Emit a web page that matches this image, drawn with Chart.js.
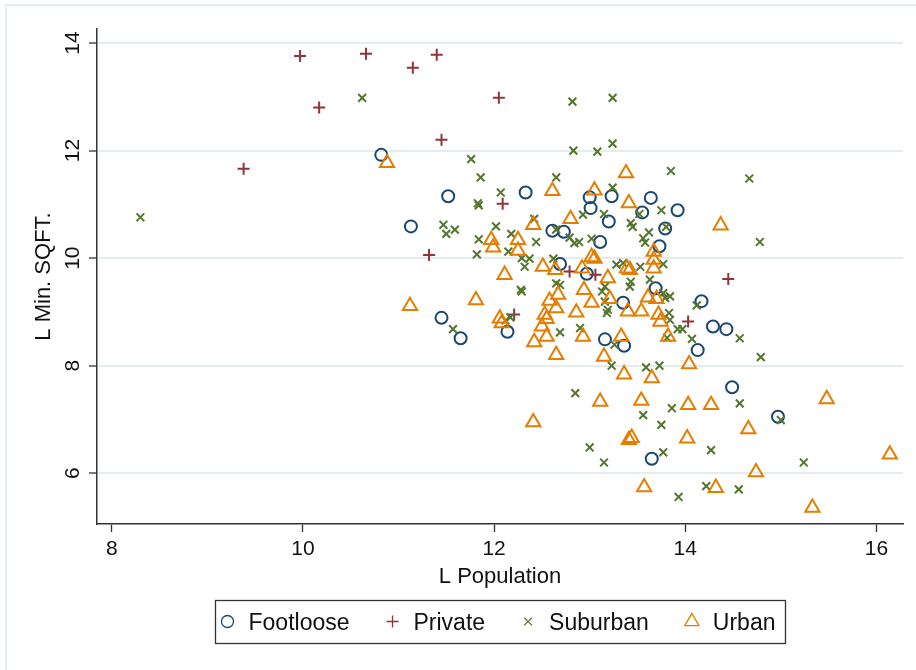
<!DOCTYPE html>
<html lang="en">
<head>
  <meta charset="utf-8">
  <title>L Min. SQFT. vs L Population</title>
  <script src="https://cdn.jsdelivr.net/npm/chart.js@4.4.3/dist/chart.umd.min.js"></script>
  <style>
    html, body { margin: 0; padding: 0; background: #fff; }
    #scatterChart { display: block; }
  </style>
</head>
<body>
  <canvas id="scatterChart" width="916" height="670"></canvas>

  <script>
    // axis ticks
    const xTicks = [8, 10, 12, 14, 16];
    const yTicks = [6, 8, 10, 12, 14];

    // Footloose
    const footlooseX = [10.82, 11.13, 11.52, 12.33, 13.00, 13.01, 12.61, 12.73, 12.69, 13.11, 13.23, 13.64, 13.92, 13.55, 13.20, 13.79,
      13.73, 11.45, 11.65, 12.14, 12.97, 13.69, 13.35, 14.17, 13.16, 13.36, 14.29, 14.43, 14.13, 14.49, 14.97, 13.65];
    const footlooseY = [11.92, 10.59, 11.15, 11.22, 11.13, 10.93, 10.51, 10.49, 9.89, 10.30, 11.15, 11.12, 10.89, 10.85, 10.68, 10.55,
      10.22, 8.89, 8.51, 8.63, 9.71, 9.44, 9.17, 9.20, 8.49, 8.37, 8.73, 8.68, 8.29, 7.60, 7.05, 6.27];

    // Private
    const privateX = [9.97, 10.66, 11.15, 11.40, 10.17, 9.38, 11.45, 11.32, 12.05, 12.09, 12.79, 13.06, 12.21, 14.45, 14.03];
    const privateY = [13.76, 13.80, 13.54, 13.78, 12.80, 11.66, 12.20, 10.06, 12.98, 11.01, 9.75, 9.69, 8.95, 9.61, 8.82];

    // Suburban
    const suburbanX = [10.62, 8.30, 11.47, 11.50, 11.59, 12.82, 13.24, 12.83, 11.76, 11.86, 12.65, 12.07, 11.83, 11.84, 12.02, 11.84,
      12.18, 12.44, 12.42, 12.93, 12.79, 12.84, 12.89, 13.02, 11.82, 12.15, 12.29, 12.37, 12.32, 12.62, 12.65, 13.08,
      13.24, 13.85, 14.67, 13.24, 13.15, 13.52, 13.75, 13.43, 13.45, 13.62, 13.56, 13.58, 13.80, 14.78, 13.28, 13.35,
      13.53, 13.77, 12.28, 12.29, 12.65, 12.69, 12.12, 12.17, 11.57, 12.69, 12.90, 13.43, 13.42, 13.16, 13.13, 13.63,
      13.77, 13.79, 13.84, 13.16, 13.19, 13.18, 13.83, 13.84, 13.92, 13.97, 14.12, 14.07, 14.57, 13.81, 13.23, 13.59,
      13.73, 14.79, 13.26, 12.85, 13.86, 13.56, 13.75, 14.57, 15.00, 13.00, 13.15, 13.77, 14.27, 15.24, 14.22, 14.56, 13.93];
    const suburbanY = [12.98, 10.76, 10.62, 10.45, 10.53, 12.91, 12.98, 12.00, 11.84, 11.50, 11.50, 11.22, 11.02, 10.98, 10.59, 10.35,
      10.45, 10.30, 10.73, 10.81, 10.38, 10.28, 10.30, 10.36, 10.07, 10.12, 10.00, 9.99, 9.84, 9.99, 10.53, 11.98,
      12.13, 11.62, 11.48, 11.31, 10.82, 10.82, 10.89, 10.65, 10.58, 10.48, 10.37, 10.29, 10.58, 10.30, 9.88, 9.91,
      9.84, 9.89, 9.41, 9.38, 9.53, 9.50, 8.84, 8.90, 8.68, 8.62, 8.70, 9.56, 9.47, 9.47, 9.38, 9.60,
      9.35, 9.26, 9.29, 9.19, 9.04, 8.98, 8.98, 8.85, 8.68, 8.68, 9.12, 8.50, 8.51, 8.52, 8.00, 7.97,
      8.00, 8.16, 8.39, 7.49, 7.21, 7.08, 6.90, 7.30, 6.99, 6.48, 6.20, 6.39, 6.43, 6.20, 5.76, 5.70, 5.56];

    // Urban
    const urbanX = [10.88, 11.12, 12.61, 12.41, 12.80, 13.05, 11.97, 11.99, 12.25, 12.25, 13.02, 13.05, 13.38, 13.41, 14.37, 13.67,
      13.67, 12.11, 11.81, 12.06, 12.08, 12.51, 12.64, 12.67, 12.58, 12.65, 12.53, 12.55, 12.50, 12.55, 12.42, 12.65,
      12.94, 13.02, 12.86, 12.93, 12.92, 13.19, 13.21, 13.40, 13.54, 13.61, 13.70, 13.72, 13.74, 13.82, 13.33, 13.15,
      13.36, 13.65, 14.04, 13.67, 13.39, 13.42, 13.11, 13.54, 14.03, 14.27, 12.41, 14.66, 13.44, 13.41, 14.02, 15.48,
      16.14, 14.74, 13.57, 14.32, 15.33];
    const urbanY = [11.77, 9.11, 11.25, 10.62, 10.73, 11.26, 10.34, 10.20, 10.34, 10.14, 10.02, 9.99, 11.58, 11.02, 10.61, 10.12,
      9.97, 9.69, 9.22, 8.88, 8.79, 9.84, 9.78, 9.32, 9.21, 9.07, 8.95, 8.87, 8.73, 8.54, 8.44, 8.20,
      9.41, 9.17, 8.99, 8.54, 9.81, 9.63, 9.24, 9.01, 9.01, 9.27, 9.24, 8.95, 8.82, 8.54, 8.54, 8.17,
      7.84, 7.77, 8.03, 9.81, 9.81, 9.78, 7.33, 7.35, 7.27, 7.27, 6.95, 6.82, 6.66, 6.62, 6.65, 7.38,
      6.35, 6.02, 5.74, 5.73, 5.36];

    const family = '"Liberation Sans", Arial, Helvetica, sans-serif';
    Chart.defaults.font.family = family;
    Chart.defaults.color = '#111';

    function toPoints(xs, ys) {
      return xs.map((x, i) => ({ x: x, y: ys[i] }));
    }

    // thin frame round the whole graph
    const outerFrame = {
      id: 'outerFrame',
      beforeDraw(chart) {
        const ctx = chart.ctx;
        ctx.save();
        ctx.strokeStyle = '#e6edf0';
        ctx.lineWidth = 2;
        ctx.beginPath();
        ctx.moveTo(6, chart.height);
        ctx.lineTo(6, 5);
        ctx.lineTo(chart.width, 5);
        ctx.stroke();
        ctx.restore();
      }
    };

    // boxed legend under the x title
    const boxedLegend = {
      id: 'boxedLegend',
      afterDraw(chart) {
        const ctx = chart.ctx;
        const area = chart.chartArea;
        const sets = chart.data.datasets;
        const markGap = 21, itemGap = 43, padL = 12, padR = 10;
        ctx.save();
        ctx.font = '23px ' + family;
        const widths = sets.map(ds => ctx.measureText(ds.label).width);
        let span = 0;
        widths.forEach((w, i) => { span += markGap + w + (i < widths.length - 1 ? itemGap : 0); });
        const boxW = padL + span + padR;
        const boxH = 43;
        const boxX = Math.round((area.left + area.right) / 2 - boxW / 2) + 0.5;
        const boxY = area.bottom + 76.5;
        ctx.fillStyle = '#fff';
        ctx.fillRect(boxX, boxY, boxW, boxH);
        ctx.strokeStyle = '#333';
        ctx.lineWidth = 1.3;
        ctx.strokeRect(boxX, boxY, boxW, boxH);

        const midY = boxY + boxH / 2 - 0.5;
        let cx = boxX + padL;
        sets.forEach((ds, i) => {
          ctx.strokeStyle = ds.borderColor;
          ctx.fillStyle = 'rgba(0,0,0,0)';
          Chart.helpers.drawPoint(ctx, {
            pointStyle: ds.pointStyle,
            radius: ds.pointRadius,
            borderWidth: ds.borderWidth,
            rotation: 0
          }, cx, midY);
          ctx.fillStyle = '#111';
          ctx.textAlign = 'left';
          ctx.textBaseline = 'alphabetic';
          ctx.fillText(ds.label, cx + markGap, midY + 8.5);
          cx += markGap + widths[i] + itemGap;
        });
        ctx.restore();
      }
    };

    new Chart(document.getElementById('scatterChart'), {
      type: 'scatter',
      data: {
        datasets: [
          {
            label: 'Footloose',
            data: toPoints(footlooseX, footlooseY),
            pointStyle: 'circle',
            pointRadius: 6,
            borderWidth: 2,
            borderColor: '#1a476f',
            backgroundColor: 'rgba(0,0,0,0)',
            order: 4
          },
          {
            label: 'Private',
            data: toPoints(privateX, privateY),
            pointStyle: 'cross',
            pointRadius: 6,
            borderWidth: 2,
            borderColor: '#90353b',
            backgroundColor: '#90353b',
            order: 3
          },
          {
            label: 'Suburban',
            data: toPoints(suburbanX, suburbanY),
            pointStyle: 'crossRot',
            pointRadius: 5.5,
            borderWidth: 2,
            borderColor: '#55752f',
            backgroundColor: '#55752f',
            order: 2
          },
          {
            label: 'Urban',
            data: toPoints(urbanX, urbanY),
            pointStyle: 'triangle',
            pointRadius: 8.2,
            borderWidth: 2,
            borderColor: '#e37e00',
            backgroundColor: 'rgba(0,0,0,0)',
            order: 1
          }
        ]
      },
      options: {
        responsive: false,
        animation: false,
        layout: { padding: { left: 0, right: 13, top: 29, bottom: 80 } },
        plugins: {
          legend: { display: false },
          tooltip: { enabled: false }
        },
        scales: {
          x: {
            type: 'linear',
            min: 7.846,
            max: 16.278,
            afterBuildTicks: scale => { scale.ticks = xTicks.map(v => ({ value: v })); },
            afterFit: scale => { scale.height = 66; },
            grid: { drawOnChartArea: false, drawTicks: true, tickLength: 8, tickColor: '#333', tickWidth: 1.3 },
            border: { display: true, color: '#333', width: 1.5 },
            ticks: { font: { size: 21 }, color: '#111', padding: 5, minRotation: 0, maxRotation: 0 },
            title: { display: true, text: 'L Population', font: { size: 22 }, color: '#111', padding: { top: 0, bottom: 0 } }
          },
          y: {
            type: 'linear',
            min: 5.057,
            max: 14.26,
            afterBuildTicks: scale => { scale.ticks = yTicks.map(v => ({ value: v })); },
            afterFit: scale => { scale.width = 97; },
            grid: { color: '#e4ecef', lineWidth: 2, drawTicks: true, tickLength: 8, tickColor: '#333', tickWidth: 1.3 },
            border: { display: true, color: '#333', width: 1.5 },
            ticks: { font: { size: 21 }, color: '#111', padding: 4, minRotation: 90, maxRotation: 90, crossAlign: 'center' },
            title: { display: true, text: 'L Min. SQFT.', font: { size: 22 }, color: '#111', padding: { top: 31, bottom: 0 } }
          }
        }
      },
      plugins: [outerFrame, boxedLegend]
    });
  </script>
</body>
</html>
